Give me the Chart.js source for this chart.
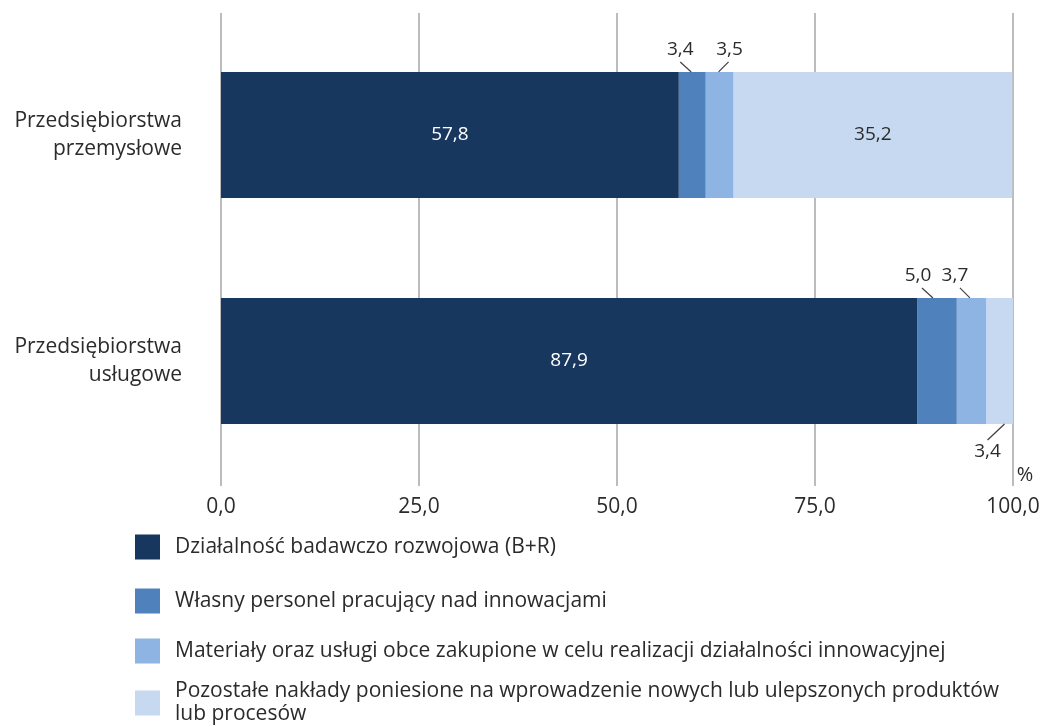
<!DOCTYPE html>
<html><head><meta charset="utf-8">
<script src="https://cdn.jsdelivr.net/npm/chart.js@4"></script>
<style>html,body{margin:0;padding:0;background:#fff}#wrap{width:1048px;height:727px;position:relative}</style>
</head><body><div id="wrap"><canvas id="c" width="1048" height="727"></canvas></div>
<script>
const categories = [["Przedsiębiorstwa","przemysłowe"],["Przedsiębiorstwa","usługowe"]];
const seriesNames = [
  "Działalność badawczo rozwojowa (B+R)",
  "Własny personel pracujący nad innowacjami",
  "Materiały oraz usługi obce zakupione w celu realizacji działalności innowacyjnej",
  "Pozostałe nakłady poniesione na wprowadzenie nowych lub ulepszonych produktów lub procesów"
];
const rdValues = [57.8, 87.9];
const personnelValues = [3.4, 5.0];
const materialsValues = [3.5, 3.7];
const otherValues = [35.2, 3.4];
const tickValues = [0, 25, 50, 75, 100];
const tickLabels = ["0,0","25,0","50,0","75,0","100,0"];
const unitLabel = "%";
const colors = ["#17375e","#4f81bd","#8eb4e3","#c6d9f1"];

const FONT = "'Open Sans', 'Noto Sans', sans-serif";
const TEXT = "#2b2b2b";
const fmt = v => v.toFixed(1).replace('.', ',');

const insideLabels = [
  {ds:0, i:0, color:"#ffffff"},
  {ds:3, i:0, color:TEXT},
  {ds:0, i:1, color:"#ffffff"}
];
const callouts = [
  {ds:1, i:0, side:'top', base:-1, end:-12, text:-12},
  {ds:2, i:0, side:'top', base:-1, end:9, text:10},
  {ds:1, i:1, side:'top', base:-4, end:-15, text:-19},
  {ds:2, i:1, side:'top', base:-1.5, end:-11.5, text:-16.5},
  {ds:3, i:1, side:'bottom', base:5, end:-12, text:-12}
];
const legendRows = [547, 601, 651, 703];

const zeroPad = s => { s.paddingTop = 0; s.paddingBottom = 0; s.paddingLeft = 0; s.paddingRight = 0; };

const plugin = {
  id: 'custom',
  beforeDatasetsDraw(chart) {
    const ctx = chart.ctx, xs = chart.scales.x;
    ctx.save();
    ctx.strokeStyle = "#a6a6a6";
    ctx.lineWidth = 1.5;
    tickValues.forEach(v => {
      const px = xs.getPixelForValue(v);
      ctx.beginPath(); ctx.moveTo(px, 13); ctx.lineTo(px, 486); ctx.stroke();
    });
    ctx.restore();
  },
  afterDatasetsDraw(chart) {
    const ctx = chart.ctx;
    const data = chart.data.datasets;
    ctx.save();
    ctx.font = "19px " + FONT;
    ctx.textAlign = 'center';
    ctx.textBaseline = 'middle';
    insideLabels.forEach(l => {
      const el = chart.getDatasetMeta(l.ds).data[l.i];
      const c = (el.x + el.base) / 2;
      ctx.fillStyle = l.color;
      ctx.fillText(fmt(data[l.ds].data[l.i]), c, el.y);
    });
    ctx.strokeStyle = "#404040";
    ctx.lineWidth = 1.2;
    callouts.forEach(l => {
      const el = chart.getDatasetMeta(l.ds).data[l.i];
      const c = (el.x + el.base) / 2;
      const top = el.y - el.height / 2, bot = el.y + el.height / 2;
      ctx.beginPath();
      if (l.side === 'top') {
        ctx.moveTo(c + l.base, top); ctx.lineTo(c + l.end, top - 10);
      } else {
        ctx.moveTo(c + l.base, bot); ctx.lineTo(c + l.end, bot + 16);
      }
      ctx.stroke();
      ctx.fillStyle = TEXT;
      const ty = l.side === 'top' ? top - 22 : bot + 28;
      ctx.fillText(fmt(data[l.ds].data[l.i]), c + l.text, ty);
    });
    ctx.restore();
  },
  afterDraw(chart) {
    const ctx = chart.ctx, xs = chart.scales.x;
    ctx.save();
    ctx.font = "20px " + FONT;
    ctx.fillStyle = TEXT;
    ctx.textAlign = 'center';
    ctx.textBaseline = 'middle';
    ctx.fillText(unitLabel, xs.right + 12, 475);
    // legend
    ctx.font = "21px " + FONT;
    ctx.textAlign = 'left';
    const maxW = 850;
    chart.data.datasets.forEach((ds, k) => {
      const y = legendRows[k];
      const words = ds.label.split(' ');
      const lines = [];
      let cur = '';
      words.forEach(w => {
        const t = cur ? cur + ' ' + w : w;
        if (ctx.measureText(t).width > maxW && cur) { lines.push(cur); cur = w; } else cur = t;
      });
      lines.push(cur);
      ctx.fillStyle = ds.backgroundColor;
      ctx.fillRect(135, y - 12.5, 25, 25);
      ctx.fillStyle = TEXT;
      const lh = 23;
      const y0 = y - (lines.length - 1) * lh / 2;
      lines.forEach((ln, j) => ctx.fillText(ln, 175, y0 + j * lh));
    });
    ctx.restore();
  }
};

const seriesValues = [rdValues, personnelValues, materialsValues, otherValues];
new Chart(document.getElementById('c'), {
  type: 'bar',
  data: {
    labels: categories,
    datasets: seriesValues.map((vals, k) => ({
      label: seriesNames[k],
      data: vals,
      backgroundColor: colors[k],
      borderWidth: 0,
      categoryPercentage: 1,
      barPercentage: 0.558
    }))
  },
  options: {
    indexAxis: 'y',
    responsive: false,
    animation: false,
    devicePixelRatio: 1,
    layout: { padding: { top: 22, right: 35, bottom: 193, left: 0 } },
    plugins: { legend: { display: false }, tooltip: { enabled: false } },
    scales: {
      x: {
        stacked: true, min: 0, max: 100,
        afterBuildTicks: s => { s.ticks = tickValues.map(v => ({ value: v })); },
        afterFit: s => { s.height = 60; zeroPad(s); },
        grid: { display: false, drawTicks: false },
        border: { display: false },
        ticks: {
          padding: 20,
          color: TEXT,
          font: { family: FONT, size: 21 },
          callback: (v, i) => tickLabels[i],
          maxRotation: 0
        }
      },
      y: {
        stacked: true,
        afterFit: s => { s.width = 221; zeroPad(s); },
        grid: { display: false, drawTicks: false },
        border: { display: false },
        ticks: {
          padding: 39,
          color: TEXT,
          font: { family: FONT, size: 21, lineHeight: 1.33 }
        }
      }
    }
  },
  plugins: [plugin]
});
</script>
</body></html>
